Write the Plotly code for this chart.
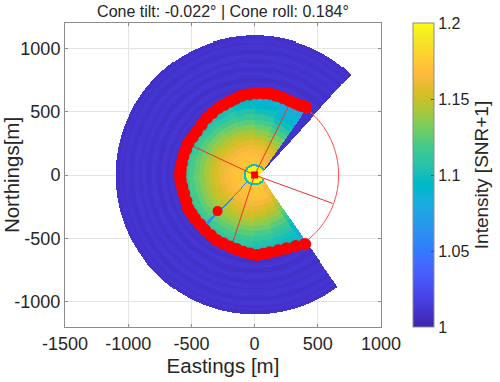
import numpy as np
import plotly.graph_objects as go

TITLE = "Cone tilt: -0.022° | Cone roll: 0.184°"
X_TICKS = [-1500, -1000, -500, 0, 500, 1000]
X_LABELS = ["-1500", "-1000", "-500", "0", "500", "1000"]
Y_TICKS = [-1000, -500, 0, 500, 1000]
Y_LABELS = ["-1000", "-500", "0", "500", "1000"]
CB_TICKS = [1, 1.05, 1.1, 1.15, 1.2]
CB_LABELS = ["1", "1.05", "1.1", "1.15", "1.2"]

# Intensity (SNR+1): one list per bearing sector, one value per range gate
RANGE_GATES = [100, 140, 180, 220, 260, 300, 340, 380, 420, 460, 500, 540, 580, 620]
BEARING_SECTORS = [154, 172, 190, 208, 226, 244, 262, 280, 298, 316, 334, 352, 370, 388]
INTENSITY = [
    [1.174, 1.172, 1.168, 1.162, 1.155, 1.149, 1.141, 1.133, 1.124, 1.115, 1.108, 1.102, 1.098, 1.095],
    [1.174, 1.172, 1.169, 1.164, 1.158, 1.152, 1.145, 1.137, 1.129, 1.120, 1.112, 1.106, 1.101, 1.098],
    [1.173, 1.172, 1.169, 1.165, 1.160, 1.154, 1.148, 1.140, 1.132, 1.124, 1.116, 1.109, 1.104, 1.100],
    [1.172, 1.171, 1.168, 1.164, 1.159, 1.153, 1.147, 1.140, 1.133, 1.125, 1.118, 1.111, 1.105, 1.101],
    [1.171, 1.170, 1.167, 1.163, 1.158, 1.152, 1.147, 1.140, 1.133, 1.125, 1.118, 1.111, 1.105, 1.101],
    [1.172, 1.171, 1.168, 1.165, 1.160, 1.154, 1.148, 1.141, 1.134, 1.126, 1.119, 1.112, 1.106, 1.102],
    [1.173, 1.172, 1.169, 1.166, 1.161, 1.155, 1.149, 1.142, 1.135, 1.127, 1.120, 1.113, 1.107, 1.103],
    [1.173, 1.172, 1.170, 1.166, 1.161, 1.155, 1.149, 1.142, 1.134, 1.126, 1.119, 1.112, 1.106, 1.102],
    [1.172, 1.171, 1.168, 1.165, 1.160, 1.154, 1.148, 1.140, 1.132, 1.124, 1.116, 1.108, 1.102, 1.099],
    [1.172, 1.171, 1.168, 1.164, 1.159, 1.152, 1.146, 1.138, 1.130, 1.121, 1.113, 1.105, 1.099, 1.096],
    [1.172, 1.171, 1.168, 1.164, 1.158, 1.151, 1.144, 1.136, 1.127, 1.118, 1.109, 1.102, 1.096, 1.094],
    [1.172, 1.170, 1.167, 1.163, 1.157, 1.149, 1.142, 1.133, 1.124, 1.114, 1.105, 1.097, 1.092, 1.091],
    [1.171, 1.169, 1.166, 1.161, 1.154, 1.145, 1.137, 1.128, 1.119, 1.109, 1.100, 1.092, 1.087, 1.086],
    [1.168, 1.166, 1.162, 1.156, 1.148, 1.138, 1.130, 1.120, 1.110, 1.100, 1.092, 1.085, 1.081, 1.080],
]
OUTER_GATES = [640, 660, 680, 700, 720, 740, 760, 780, 800, 820, 840, 860, 880, 900, 920, 940, 960, 980,
               1000, 1020, 1040, 1060, 1080, 1100]
OUTER_INTENSITY = [1.010, 1.012, 1.008, 1.011, 1.013, 1.009, 1.008, 1.011, 1.013, 1.010, 1.008, 1.011,
                   1.012, 1.009, 1.011, 1.013, 1.010, 1.008, 1.011, 1.012, 1.009, 1.011, 1.008, 1.010]

# Seabed-detection points (thick red band)
RING_E = [406, 382, 359, 319, 273, 227, 174, 121, 68, 16, -43, -103, -150, -195, -242, -288, -335, -380,
          -420, -459, -492, -525, -545, -565, -577, -586, -588, -586, -573, -559, -542, -525, -499, -472,
          -433, -393, -347, -301, -248, -195, -142, -90, -37, 16, 68, 121, 187, 253, 325, 398]
RING_N = [536, 544, 551, 567, 587, 607, 625, 641, 645, 646, 637, 625, 603, 580, 554, 528, 489, 449,
          396, 343, 297, 251, 198, 145, 92, 40, 0, -40, -92, -145, -205, -264, -303, -343,
          -389, -435, -475, -515, -541, -567, -587, -607, -621, -633, -624, -612, -597, -580, -563, -546]

SPOKE_E = [274, 617, -174, -480]
SPOKE_N = [554, -224, -536, 224]
SPAN_BEARINGS = [40, 50, 60, 70, 80, 90, 100, 110, 120, 130, 143]
SPAN_RANGE = 665
DOT_E, DOT_N = [-293], [-285]
CENTRE_E, CENTRE_N = [0], [0]

PARULA = [[0.2422,0.1504,0.6603],[0.2504,0.1650,0.7076],[0.2578,0.1818,0.7511],[0.2647,0.1978,0.7952],
[0.2706,0.2147,0.8364],[0.2751,0.2342,0.8710],[0.2783,0.2559,0.8991],[0.2803,0.2782,0.9221],
[0.2813,0.3006,0.9414],[0.2810,0.3228,0.9579],[0.2795,0.3447,0.9717],[0.2760,0.3667,0.9829],
[0.2699,0.3892,0.9906],[0.2602,0.4123,0.9952],[0.2440,0.4358,0.9988],[0.2206,0.4603,0.9973],
[0.1963,0.4847,0.9892],[0.1834,0.5074,0.9798],[0.1786,0.5289,0.9682],[0.1764,0.5499,0.9520],
[0.1687,0.5703,0.9359],[0.1540,0.5902,0.9218],[0.1460,0.6091,0.9079],[0.1380,0.6276,0.8973],
[0.1248,0.6459,0.8883],[0.1113,0.6635,0.8763],[0.0952,0.6798,0.8598],[0.0689,0.6948,0.8394],
[0.0297,0.7082,0.8163],[0.0036,0.7203,0.7917],[0.0067,0.7312,0.7660],[0.0433,0.7411,0.7394],
[0.0964,0.7500,0.7120],[0.1408,0.7584,0.6842],[0.1717,0.7670,0.6554],[0.1938,0.7758,0.6251],
[0.2161,0.7843,0.5923],[0.2470,0.7918,0.5567],[0.2906,0.7973,0.5188],[0.3406,0.8008,0.4789],
[0.3909,0.8029,0.4354],[0.4456,0.8024,0.3909],[0.5044,0.7993,0.3480],[0.5616,0.7942,0.3045],
[0.6174,0.7876,0.2612],[0.6720,0.7793,0.2227],[0.7242,0.7698,0.1910],[0.7738,0.7598,0.1646],
[0.8203,0.7498,0.1535],[0.8634,0.7406,0.1596],[0.9035,0.7330,0.1774],[0.9393,0.7288,0.2100],
[0.9728,0.7298,0.2394],[0.9956,0.7434,0.2371],[0.9970,0.7659,0.2199],[0.9952,0.7893,0.2028],
[0.9892,0.8136,0.1885],[0.9786,0.8386,0.1766],[0.9676,0.8639,0.1643],[0.9610,0.8890,0.1537],
[0.9597,0.9135,0.1423],[0.9628,0.9373,0.1265],[0.9691,0.9606,0.1064],[0.9769,0.9839,0.0805]]
colorscale = [[i / 63, "rgb(%d,%d,%d)" % tuple(round(c * 255) for c in rgb)] for i, rgb in enumerate(PARULA)]

# Rasterise the sector table on a metre grid
gx = np.arange(-1150, 850, 8.0)
gy = np.arange(-1150, 1150, 8.0)
xx, yy = np.meshgrid(gx, gy)
rr = np.hypot(xx, yy)
bearing = np.degrees(np.arctan2(xx, yy)) % 360
apex = np.degrees(np.arctan2(xx - 40, yy)) % 360

ring_b = np.degrees(np.arctan2(RING_E, RING_N)) % 360
ring_r = np.hypot(RING_E, RING_N)
edge = ring_r[np.argmin(np.abs((bearing[..., None] - ring_b + 180) % 360 - 180), axis=-1)]

table = np.array(INTENSITY)
unwrapped = np.where(bearing < 145, bearing + 360, bearing)
col = np.abs(unwrapped[..., None] - np.array(BEARING_SECTORS)).argmin(axis=-1)
row = np.abs(rr[..., None] - np.array(RANGE_GATES)).argmin(axis=-1)
outer_row = np.abs(rr[..., None] - np.array(OUTER_GATES)).argmin(axis=-1)

z = table[col, row]
outer = (rr >= edge) | ((apex > 35.3) & (apex <= 42.3))
z = np.where(outer, np.array(OUTER_INTENSITY)[outer_row], z)
beam = (np.abs(bearing - 224.8) < 1.1) & (rr < edge)
z = np.where(beam, 1.06, z)
z = np.where(rr < 85, 1.10, z)
z = np.where(rr < 68, 1.195, z)
z = np.where((rr > 1100) | ((apex > 42.3) & (apex < 145)), np.nan, z)

INK = "#262626"
FONT = "Liberation Sans"

fig = go.Figure()
fig.add_trace(go.Heatmap(
    x=gx, y=gy, z=z, zmin=1, zmax=1.2, colorscale=colorscale, hoverinfo="skip",
    colorbar=dict(
        x=(413 - 65) / 316, xanchor="left", xpad=0, y=0.5, yanchor="middle", ypad=0,
        thickness=21, thicknessmode="pixels", len=1, lenmode="fraction",
        outlinecolor="#8c8c8c", outlinewidth=1,
        tickmode="array", tickvals=CB_TICKS, ticktext=CB_LABELS,
        ticks="inside", ticklen=3, tickcolor="#444", tickwidth=1,
        tickfont=dict(family=FONT, size=16, color=INK),
        title=dict(text="Intensity [SNR+1]", side="right", font=dict(family=FONT, size=19, color=INK)),
    ),
))
span_x = [SPAN_RANGE * np.sin(np.radians(b)) for b in SPAN_BEARINGS]
span_y = [SPAN_RANGE * np.cos(np.radians(b)) for b in SPAN_BEARINGS]
fig.add_trace(go.Scatter(x=span_x, y=span_y, mode="lines", line=dict(color="#ff4d4d", width=1, shape="spline"), showlegend=False))
for e, n in zip(SPOKE_E, SPOKE_N):
    fig.add_trace(go.Scatter(x=[0, e], y=[0, n], mode="lines", line=dict(color="#f03030", width=1), showlegend=False))
fig.add_trace(go.Scatter(x=RING_E, y=RING_N, mode="markers", marker=dict(color="#ff0000", size=12.5), showlegend=False))
fig.add_trace(go.Scatter(x=DOT_E, y=DOT_N, mode="markers", marker=dict(color="#ff0000", size=10), showlegend=False))
fig.add_trace(go.Scatter(x=CENTRE_E, y=CENTRE_N, mode="markers", marker=dict(color="#ff0000", size=7, symbol="square"), showlegend=False))

axis = dict(
    automargin=False, showline=True, linecolor="#8c8c8c", linewidth=1, mirror="ticks",
    ticks="inside", ticklen=3, tickcolor="#8c8c8c", tickwidth=1,
    showgrid=True, gridcolor="#e4e4e4", gridwidth=1, zeroline=False,
    tickfont=dict(family=FONT, size=18, color=INK),
)
fig.update_layout(
    width=500, height=382, margin=dict(l=65, r=119, t=23, b=55, autoexpand=False),
    paper_bgcolor="white", plot_bgcolor="white", showlegend=False,
    title=dict(text=TITLE, x=(65 + 316 / 2) / 500, xanchor="center", y=1 - 11 / 382, yanchor="middle",
               font=dict(family=FONT, size=16, color=INK)),
    xaxis=dict(axis, range=[-1500, 1000], tickvals=X_TICKS, ticktext=X_LABELS,
               title=dict(text="Eastings [m]", standoff=2, font=dict(family=FONT, size=20.5, color=INK))),
    yaxis=dict(axis, range=[-1200, 1200], tickvals=Y_TICKS, ticktext=Y_LABELS,
               title=dict(text="Northings[m]", font=dict(family=FONT, size=20.5, color=INK))),
)
fig.write_html("out.html", config={"displayModeBar": False},
               post_script="document.body.style.margin='0';document.documentElement.style.overflow='hidden';")
